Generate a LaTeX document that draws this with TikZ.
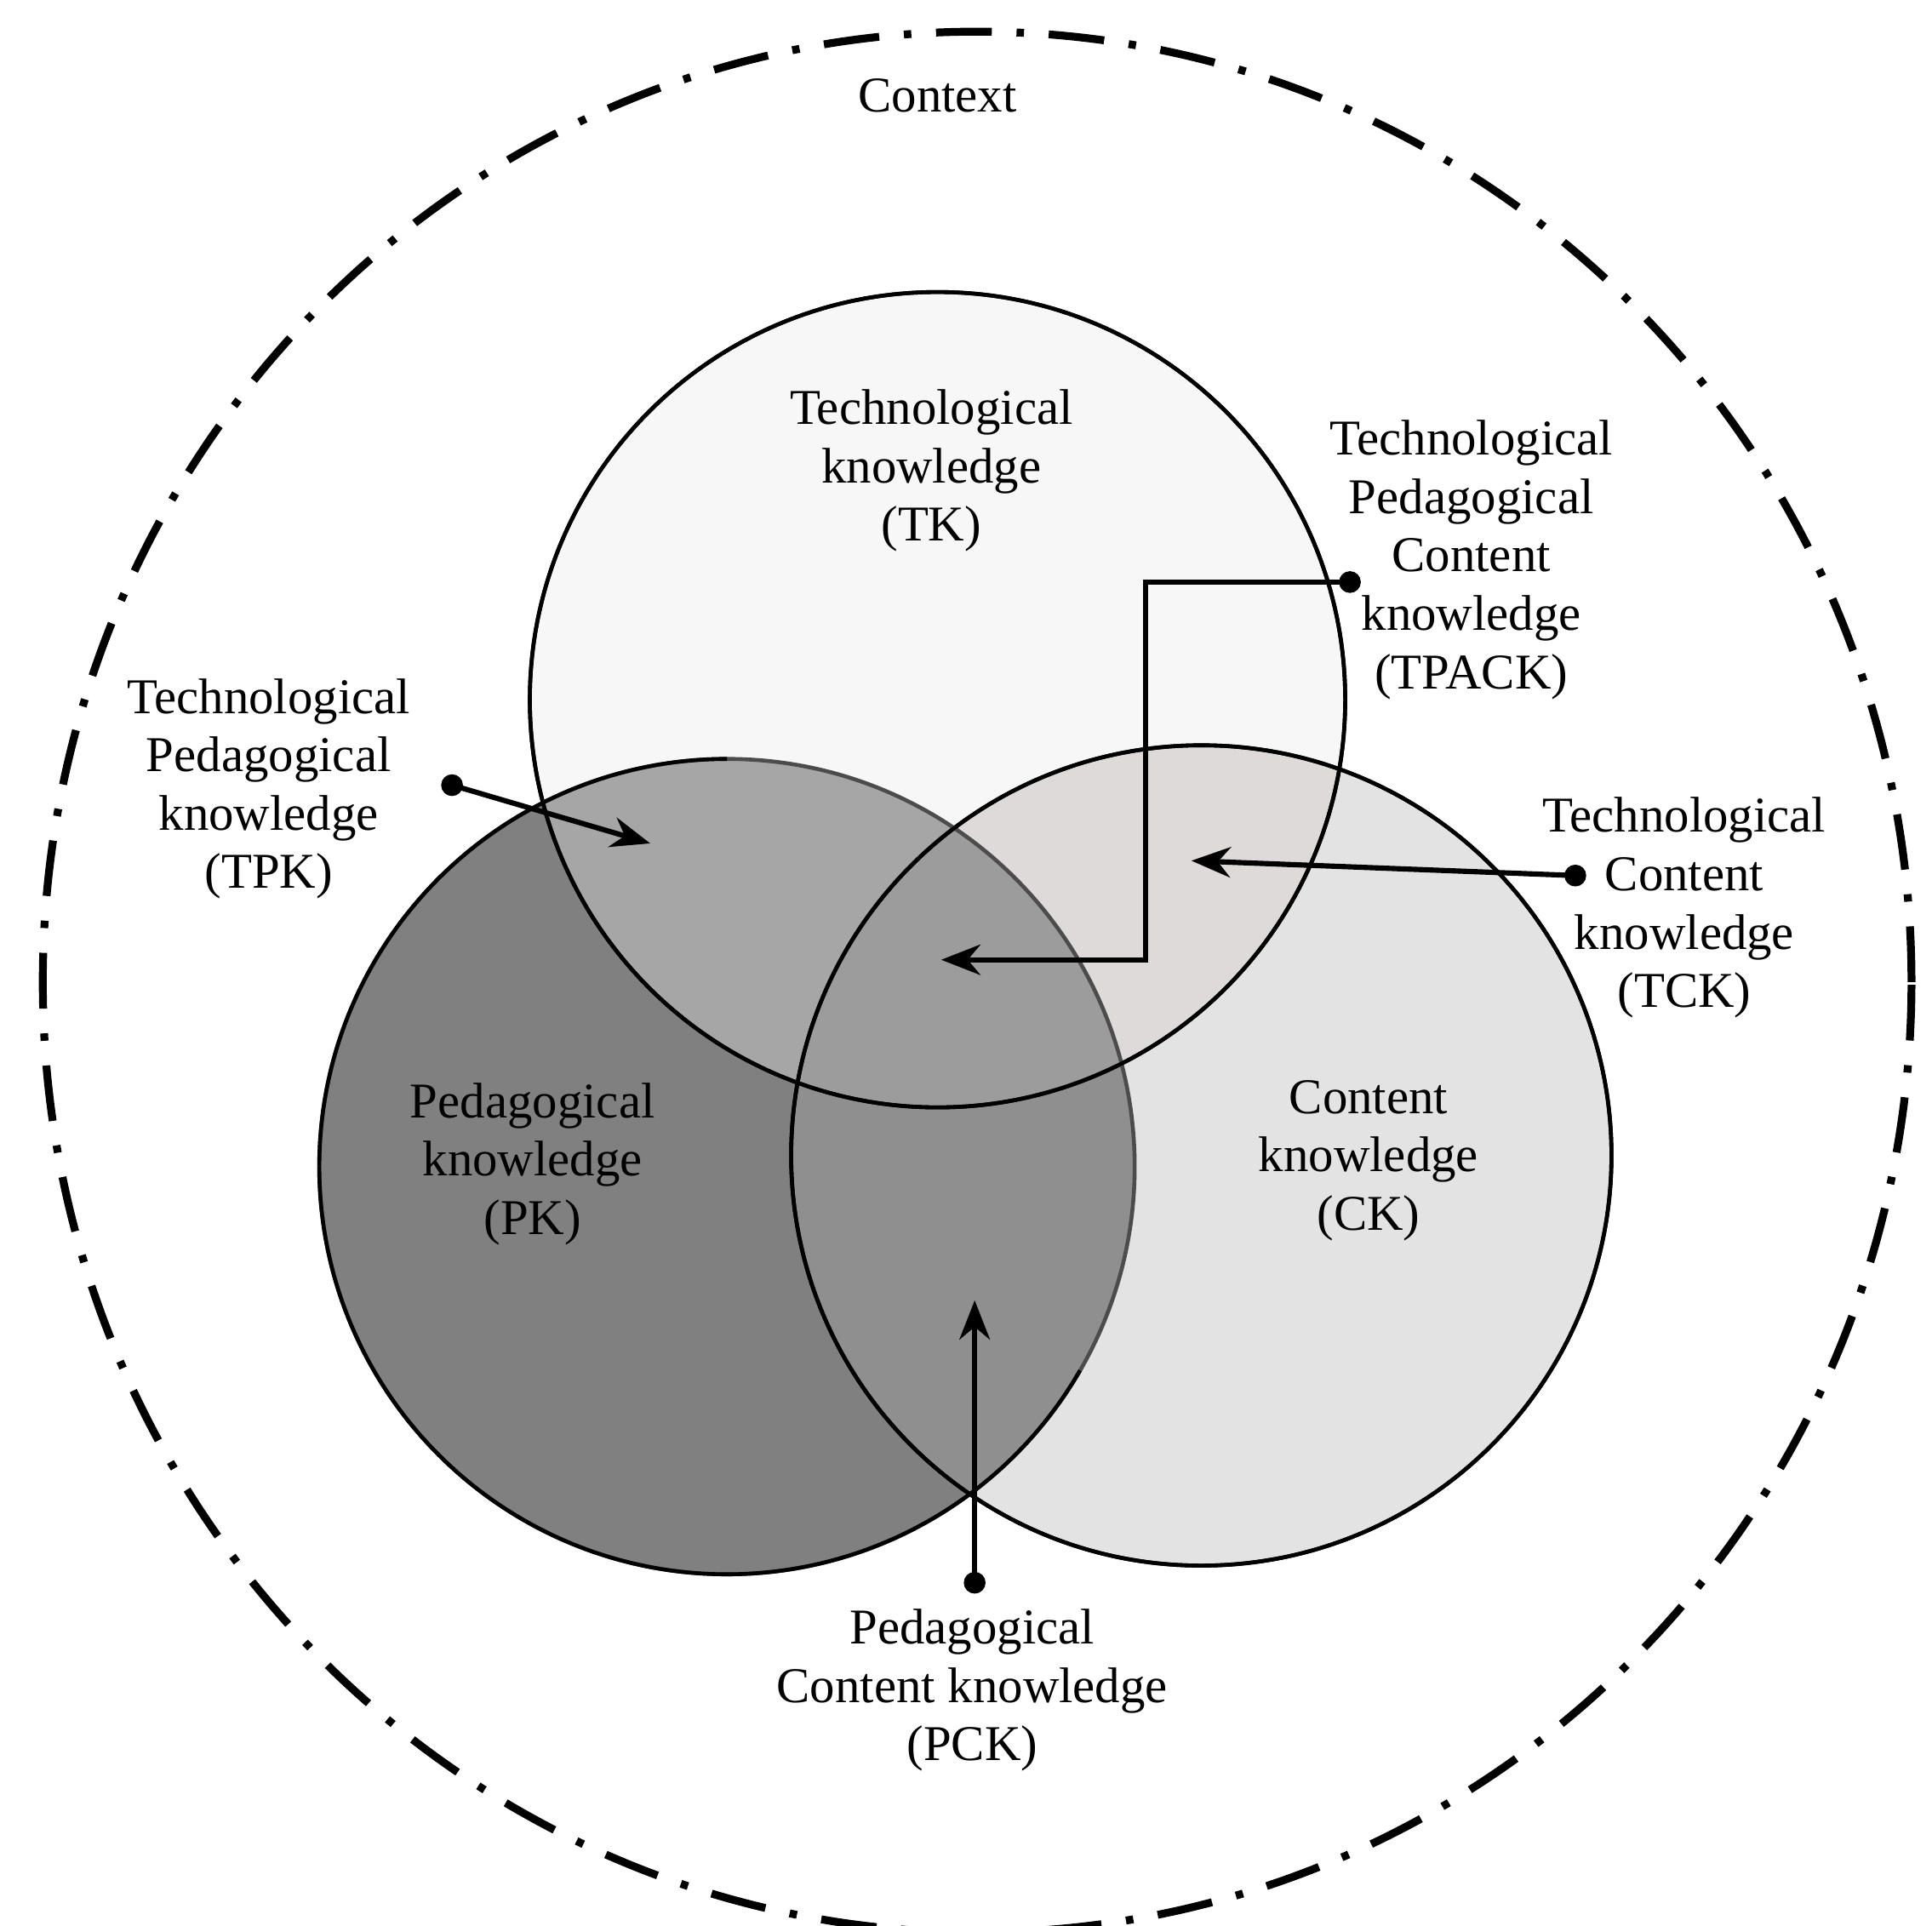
\documentclass[tikz,border=0pt]{standalone}
\usepackage{fontspec}
\setmainfont{Liberation Serif}
\usetikzlibrary{arrows.meta,positioning}

\begin{document}
\begin{tikzpicture}[x=0.01cm, y=-0.01cm]

\tikzset{
  lbl/.style={align=center, font=\fontsize{11.5}{13.4}\selectfont},
  ring/.style={draw, circle, line width=0.9pt, minimum size=6.58cm, inner sep=0pt},
  ptr/.style={line width=1.2pt, -{Stealth[length=9pt, width=7pt]}},
  dot/.style={circle, fill, inner sep=0pt, minimum size=5pt},
}

\useasboundingbox (0,0) rectangle (1560,1555);

% outer context
\draw [line width=1.8pt, dash pattern=on 0.45cm off 0.2cm on 0.06cm off 0.2cm]
  (789,793) ellipse [x radius=7.54cm, y radius=7.67cm];
\node [lbl] (ctx) at (757,77) {Context};

% base fills
\fill [black!3] (757,565) circle [radius=3.29cm];
\fill [black!11] (970,933) circle [radius=3.31cm];
\fill [black!50] (587,942) circle [radius=3.29cm];
% overlaps
\begin{scope}
  \clip (757,565) circle [radius=3.29cm];
  \fill [black!13!white!98!red] (970,933) circle [radius=3.31cm];
  \fill [black!35] (587,942) circle [radius=3.29cm];
\end{scope}
\begin{scope}
  \clip (970,933) circle [radius=3.31cm];
  \fill [black!44] (587,942) circle [radius=3.29cm];
  \clip (757,565) circle [radius=3.29cm];
  \fill [black!39] (587,942) circle [radius=3.29cm];
\end{scope}

% circles
\node [ring] (tk) at (757,565) {};
\node [ring, minimum size=6.62cm] (ck) at (970,933) {};
\node [ring, draw=black!70] (pk) at (587,942) {};
\draw [line width=0.9pt] (pk.center) ++(180:3.29cm) arc [start angle=180, end angle=330, radius=3.29cm];
\draw [line width=0.9pt] (pk.center) ++(90:3.29cm) arc [start angle=90, end angle=180, radius=3.29cm];
\draw [line width=0.9pt] (ck) circle [radius=3.31cm];
\draw [line width=0.9pt] (tk) circle [radius=3.29cm];

% labels
\node [lbl] (tkl) at (752,380) {Technological\\knowledge\\(TK)};
\node [lbl] (pkl) at (430,940) {Pedagogical\\knowledge\\(PK)};
\node [lbl] (ckl) at (1105,937) {Content\\knowledge\\(CK)};
\node [lbl] (tpack) at (1188,452) {Technological\\Pedagogical\\Content\\knowledge\\(TPACK)};
\node [lbl] (tpk) at (217,637) {Technological\\Pedagogical\\knowledge\\(TPK)};
\node [lbl] (tck) at (1360,733) {Technological\\Content\\knowledge\\(TCK)};
\node [lbl] (pck) at (785,1365) {Pedagogical\\Content knowledge\\(PCK)};

% pointers
\node [dot] (d1) at (1090,470) {};
\coordinate (c1) at (760,775);
\draw [ptr] (d1.center) -- (925,470) -- (925,775) -- (c1);

\node [dot] (d2) at (365,634) {};
\coordinate (c2) at (525,681);
\draw [ptr] (d2.center) -- (c2);

\node [dot] (d3) at (1272,707) {};
\coordinate (c3) at (962,695);
\draw [ptr] (d3.center) -- (c3);

\node [dot] (d4) at (787,1278) {};
\coordinate (c4) at (787,1050);
\draw [ptr] (d4.center) -- (c4);

\end{tikzpicture}
\end{document}
